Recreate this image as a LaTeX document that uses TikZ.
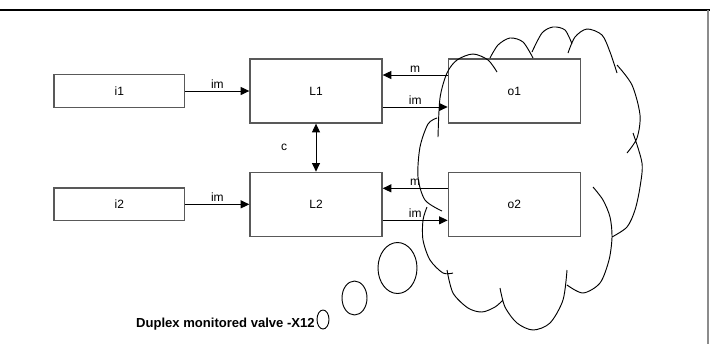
\documentclass[tikz,border=0pt]{standalone}
\usepackage{fontspec}
\setmainfont{Liberation Sans}
\usetikzlibrary{arrows.meta, positioning}
\tikzset{
  smallbox/.style={
    rectangle, minimum width=98pt, minimum height=24.5pt,
    text centered, draw=black!65, line width=1pt,
    font=\fontsize{9}{11}\selectfont,
  },
  bigbox/.style={
    rectangle, minimum width=99pt, minimum height=48pt,
    text centered, draw=black!65, line width=1pt,
    font=\fontsize{9}{11}\selectfont,
  },
  arrow/.style={-{Triangle[length=6.5pt, width=6pt]}, line width=0.75pt, color=black},
  dblarrow/.style={{Triangle[length=6.5pt, width=6pt]}-{Triangle[length=6.5pt, width=6pt]}, line width=0.75pt, color=black},
  lbl/.style={font=\fontsize{9}{11}\selectfont, inner sep=1.5pt},
  cloudline/.style={line width=0.7pt, color=black},
}

\begin{document}
\begin{tikzpicture}[x=0.75pt, y=-0.75pt]
  \useasboundingbox (0,0) rectangle (710,344);

  % frame
  \draw[line width=1.2pt] (0,10) -- (710,10);
  \draw[black!45, line width=0.8pt] (708,10) -- (708,344);

  \node[bigbox] (L1) at (316,91) {L1};
  \node[bigbox, below=36pt of L1] (L2) {L2};
  \node[smallbox, left=48pt of L1] (i1) {i1};
  \node[smallbox, left=48pt of L2] (i2) {i2};
  \node[bigbox, right=48.75pt of L1] (o1) {o1};
  \node[bigbox, right=48.75pt of L2] (o2) {o2};

  \draw[arrow] (i1) -- node[lbl, above]{im} (L1);
  \draw[arrow] (i2) -- node[lbl, above]{im} (L2);
  \draw[dblarrow] (L1) -- node[lbl, midway, xshift=-24pt]{c} (L2);
  \draw[arrow] ([yshift=12pt]o1.west) -- node[lbl, above]{m} ([yshift=12pt]L1.east);
  \draw[arrow] ([yshift=-12pt]L1.east) -- node[lbl, above]{im} ([yshift=-12pt]o1.west);
  \draw[arrow] ([yshift=12pt]o2.west) -- node[lbl, above]{m} ([yshift=12pt]L2.east);
  \draw[arrow] ([yshift=-12pt]L2.east) -- node[lbl, above]{im} ([yshift=-12pt]o2.west);

  % cloud
  \draw[cloudline]
    plot[smooth] coordinates {(437,118) (428,124) (420,147) (418,177) (425,200) (442,211)}
    plot[smooth] coordinates {(438,137) (440,98) (447,73) (457,60) (473,54) (488,60) (497,72)}
    plot[smooth] coordinates {(490,58) (498,45) (510,38) (523,42) (533,58)}
    plot[smooth] coordinates {(532,52) (542,33) (553,27) (565,30) (572,44)}
    plot[smooth] coordinates {(568,53) (575,37) (587,29) (602,35) (610,52) (617,73)}
    plot[smooth] coordinates {(617,65) (632,85) (640,115) (637,138) (627,153)}
    plot[smooth] coordinates {(633,133) (642,163) (640,187) (635,210) (627,227) (612,237)}
    plot[smooth] coordinates {(593,187) (603,200) (610,217) (612,237) (609,260) (600,283) (583,293) (567,285)}
    plot[smooth] coordinates {(567,270) (563,300) (550,323) (533,330) (517,323) (505,307) (500,288)}
    plot[smooth] coordinates {(503,300) (495,307) (482,312) (468,308) (453,293) (447,270)}
    plot[smooth] coordinates {(453,273) (443,273) (430,260) (423,240) (423,220) (427,207)};

  % thought bubbles
  \draw[cloudline] (397.5,268) ellipse [x radius=19.5, y radius=25.5];
  \draw[cloudline] (354.5,298) ellipse [x radius=12.5, y radius=17];
  \draw[cloudline] (323,319.5) ellipse [x radius=6, y radius=9.5];

  \node[anchor=east, inner sep=0pt, font=\fontsize{9.8}{11}\selectfont\bfseries] (caption) at (315,324) {Duplex monitored valve -X12};

\end{tikzpicture}
\end{document}
